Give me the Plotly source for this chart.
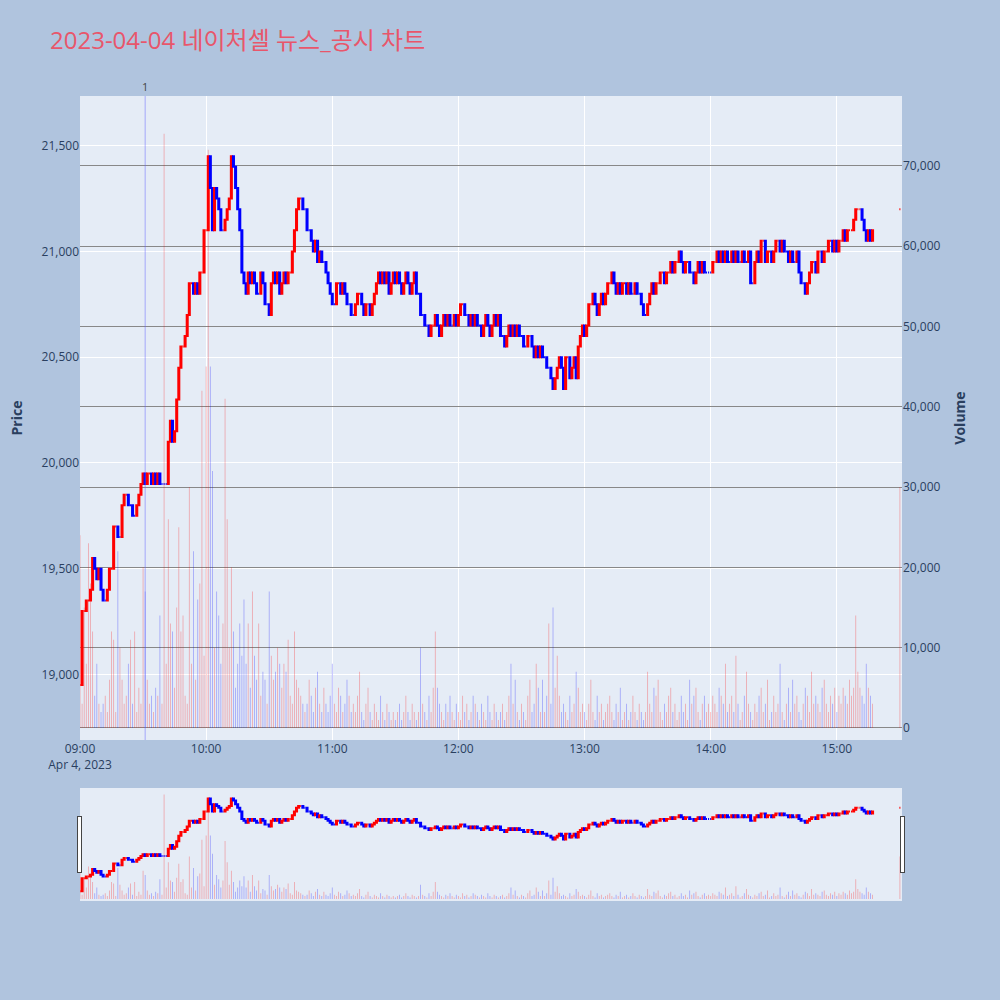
import pandas as pd
import plotly.graph_objects as go
from plotly.subplots import make_subplots

closes = [
18950,19300,19300,19350,19350,19400,19550,19500,19450,19500,
19400,19350,19350,19400,19500,19500,19700,19700,19650,19650,
19800,19850,19850,19800,19800,19750,19750,19800,19850,19900,
19950,19900,19950,19950,19900,19950,19900,19950,19900,19900,
19900,19900,20100,20200,20100,20150,20300,20450,20550,20550,
20600,20700,20850,20850,20800,20850,20800,20900,20900,21100,
21100,21450,21300,21100,21300,21250,21200,21100,21100,21150,
21200,21250,21450,21400,21300,21200,21100,20900,20850,20800,
20900,20850,20900,20850,20800,20800,20900,20850,20750,20750,
20700,20850,20900,20850,20900,20800,20850,20900,20850,20900,
20900,21000,21100,21200,21250,21250,21200,21200,21100,21100,
21050,21000,21050,20950,21000,20950,20950,20900,20850,20800,
20750,20750,20850,20850,20800,20850,20800,20750,20750,20700,
20700,20750,20800,20800,20750,20700,20750,20750,20700,20750,
20800,20850,20900,20850,20900,20850,20900,20800,20850,20900,
20850,20900,20850,20800,20850,20900,20850,20800,20850,20900,
20800,20800,20700,20700,20650,20650,20600,20650,20650,20700,
20650,20600,20650,20700,20650,20700,20650,20650,20700,20650,
20700,20750,20750,20700,20700,20650,20700,20650,20700,20650,
20650,20600,20650,20700,20650,20600,20650,20700,20650,20700,
20600,20600,20550,20600,20650,20600,20650,20600,20650,20600,
20600,20550,20550,20600,20600,20550,20500,20550,20500,20550,
20500,20500,20450,20450,20400,20350,20400,20450,20500,20450,
20350,20500,20500,20400,20450,20500,20400,20550,20600,20650,
20600,20650,20750,20750,20800,20750,20700,20750,20800,20750,
20800,20850,20850,20900,20850,20800,20850,20800,20850,20850,
20800,20850,20800,20800,20850,20800,20800,20750,20700,20700,
20750,20800,20850,20800,20850,20850,20900,20900,20850,20900,
20900,20950,20900,20950,20950,21000,20950,20900,20950,20950,
20900,20900,20850,20900,20950,20900,20950,20900,20900,20900,
20900,20950,20950,21000,20950,21000,20950,21000,20950,20950,
21000,20950,21000,20950,20950,21000,20950,20950,21000,20850,
20850,20950,21000,20950,21050,21050,20950,21000,21000,20950,
21000,21050,21050,21000,21050,21000,21000,20950,21000,20950,
20950,21000,20900,20850,20850,20800,20850,20900,20950,20950,
20900,21000,21000,20950,21000,21000,21050,21050,21000,21050,
21000,21050,21050,21100,21050,21100,21100,21100,21150,21200,
21200,21200,21150,21100,21050,21100,21050,21100]

volumes_k = [
24,3,15,8,23,18,12,4,8,3, 2,3,4,2,6,12,11,2,22,10,
6,3,4,8,11,3,12,2,5,3, 20,17,6,3,4,2,5,4,14,3,
74,8,26,13,12,5,15,25,12,14, 4,3,30,8,22,6,16,18,42,9,
45,72,45,32,10,17,14,8,13,41, 26,10,20,12,5,8,13,9,16,8,
13,5,17,9,6,13,4,7,6,3, 17,9,6,7,10,8,5,8,7,11,
4,3,12,6,5,4,3,2,3,6, 4,2,5,7,3,2,5,3,2,4,
8,3,2,5,4,2,3,6,4,2, 3,2,4,7,2,1,3,5,2,1,
3,2,1,4,2,1,3,2,1,2, 1,2,3,1,2,4,2,1,3,2,
1,2,10,3,2,1,4,2,5,12, 5,3,2,1,3,2,4,2,1,3,
2,1,4,2,3,1,2,4,3,2, 1,3,2,1,4,2,1,3,2,1,
2,3,1,2,4,8,3,6,2,1, 3,2,1,4,6,2,3,8,5,2,
6,2,4,13,3,15,5,9,4,2, 3,2,1,4,2,3,7,5,2,3,
2,1,3,6,2,1,4,2,3,1, 2,3,4,2,1,3,2,5,1,2,
3,1,2,4,2,1,3,2,1,2, 7,3,2,5,4,6,2,1,3,2,
4,5,2,3,1,2,4,2,3,1, 6,3,4,5,2,1,3,4,2,3,
2,4,3,2,5,4,3,8,2,3, 4,2,9,3,1,2,4,7,3,2,
1,3,2,4,5,2,3,6,1,2, 4,2,3,8,2,1,3,5,2,6,
3,4,2,1,3,5,4,2,7,3, 4,3,2,5,6,3,2,4,3,5,
2,4,3,5,4,3,6,4,5,14, 7,5,4,3,8,5,4,3]

close_price = 21200
close_volume_k = 30

times = list(pd.date_range("2023-04-04 09:00", periods=len(closes), freq="min")) + [pd.Timestamp("2023-04-04 15:30")]
c = closes + [close_price]
o = [closes[0]] + closes[:-1] + [close_price]
h = [max(a, b) for a, b in zip(o, c)]
l = [min(a, b) for a, b in zip(o, c)]
vol = [v * 1000 for v in volumes_k + [close_volume_k]]
vcol = ["rgba(255,0,0,0.3)" if cc >= oo else "rgba(0,0,255,0.3)" for oo, cc in zip(o, c)]

fig = make_subplots(specs=[[{"secondary_y": True}]])
fig.add_trace(go.Bar(x=times, y=vol, marker=dict(color=vcol, line=dict(width=0)), showlegend=False), secondary_y=True)
fig.add_trace(go.Candlestick(x=times, open=o, high=h, low=l, close=c,
    increasing=dict(line=dict(color="red", width=2), fillcolor="red"),
    decreasing=dict(line=dict(color="blue", width=2), fillcolor="blue"),
    showlegend=False), secondary_y=False)

fig.add_shape(type="line", xref="x", yref="paper", x0="2023-04-04 09:31", x1="2023-04-04 09:31", y0=0, y1=1,
              line=dict(color="rgba(100,100,255,0.5)", width=1))
fig.add_annotation(x="2023-04-04 09:31", y=1, yref="paper", text="1", showarrow=False, yanchor="bottom",
                   font=dict(size=11, color="#444"))

fig.update_layout(
    width=1000, height=1000,
    paper_bgcolor="#b0c4de", plot_bgcolor="#e5ecf6",
    title=dict(text="2023-04-04 네이처셀 뉴스_공시 차트", x=0.05, y=0.968,
               font=dict(size=24, color="#e8566b", family="Open Sans, Noto Sans CJK KR")),
    margin=dict(l=80, r=98, t=96, b=100),
    bargap=0.6,
    xaxis=dict(domain=[0, 1], range=["2023-04-04 09:00", "2023-04-04 15:31"], gridcolor="white",
               rangeslider=dict(visible=True, thickness=0.14, range=["2023-04-04 09:00", "2023-04-04 15:31"])),
)
fig.update_yaxes(title_text="<b>Price</b>", range=[18690, 21735], tickformat=",", gridcolor="white", secondary_y=False)
fig.update_yaxes(title_text="<b>Volume</b>", range=[-1500, 78700], tickformat=",", gridcolor="#888",
                 zeroline=False, secondary_y=True)
fig.write_html("out.html", config={"displayModeBar": False}, post_script="document.body.style.margin='0';")
